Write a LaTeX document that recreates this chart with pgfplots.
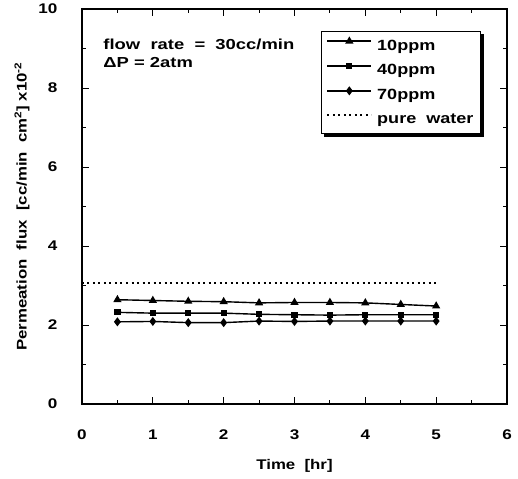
\documentclass[border=0pt]{standalone}
\usepackage{fontspec}
\setmainfont{Liberation Sans}[FakeStretch=1.2, BoldFeatures={FakeStretch=1.2}]
\newfontfamily\wf{Liberation Sans}[FakeStretch=1.22, BoldFeatures={FakeStretch=1.22}]
\newfontfamily\af{Liberation Sans}[FakeStretch=1.27, BoldFeatures={FakeStretch=1.27}]
\usepackage{pgfplots}
\pgfplotsset{compat=1.18}
\begin{document}
\begin{tikzpicture}
\begin{axis}[
  scale only axis,
  width=425pt, height=395pt,
  xmin=0, xmax=6, ymin=0, ymax=10,
  xtick={0,1,...,6}, ytick={0,2,...,10},
  minor xtick={0.5,1.5,...,5.5}, minor ytick={1,3,...,9},
  tick align=inside, ticks=both,
  major tick length=7pt, minor tick length=4pt,
  every tick/.style={black, line width=0.9pt},
  axis line style={line width=1.3pt},
  tick label style={font=\fontsize{14}{16}\selectfont\wf\bfseries},
  /pgf/number format/assume math mode=true,
  xticklabel style={yshift=-22pt},
  yticklabel style={xshift=-21pt},
  label style={font=\fontsize{14}{16}\selectfont\bfseries},
  xlabel={Time\ \ [hr]},
  xlabel style={at={(rel axis cs:0.5,-0.157)}, anchor=center},
  ylabel={Permeation\ \ flux\ \ [cc/min\ \ cm\textsuperscript{2}]\ x10\textsuperscript{-2}},
  ylabel style={at={(rel axis cs:-0.141,0.5)}, anchor=center, rotate=0},
  legend style={name=leg, at={(rel axis cs:0.562,0.944)}, anchor=north west,
    font=\fontsize{14.8}{16}\selectfont\wf\bfseries, draw=black, line width=1.3pt,
    row sep=9pt, column sep=3pt, inner xsep=5pt, inner ysep=6pt},
  legend cell align=left,
  legend image code/.code={
    \draw[mark repeat=2,mark phase=2,yshift=4.5pt,#1] plot coordinates {(0pt,0pt) (22pt,0pt) (44pt,0pt)};
  },
  clip=false,
]
\addplot[black, line width=1.4pt, mark=triangle*, mark size=3.4pt] coordinates {
(0.5,2.64) (1,2.62) (1.5,2.60) (2,2.59) (2.5,2.56) (3,2.57) (3.5,2.57) (4,2.56) (4.5,2.52) (5,2.48)};
\addlegendentry{10ppm}
\addplot[black, line width=1.4pt, mark=square*, mark size=2.4pt] coordinates {
(0.5,2.32) (1,2.30) (1.5,2.30) (2,2.30) (2.5,2.27) (3,2.26) (3.5,2.25) (4,2.26) (4.5,2.26) (5,2.26)};
\addlegendentry{40ppm}
\addplot[black, line width=1.4pt, mark=diamond*, mark size=3.4pt] coordinates {
(0.5,2.08) (1,2.09) (1.5,2.06) (2,2.06) (2.5,2.10) (3,2.09) (3.5,2.10) (4,2.10) (4.5,2.10) (5,2.10)};
\addlegendentry{70ppm}
\addplot[black, line width=1.7pt, dash pattern=on 2pt off 3.5pt] coordinates {(0,3.07) (5,3.07)};
\addlegendentry{pure\ \ water}
\node[anchor=north west, align=left, font=\fontsize{14.5}{18.5}\selectfont\af\bfseries, inner sep=0pt]
  at (rel axis cs:0.05,0.925) {flow\ \ rate\ \ =\ \ 30cc/min\\ΔP\ =\ 2atm};
\end{axis}
\draw[black, line width=2.6pt]
  ([xshift=1.3pt,yshift=-3pt]leg.north east) -- ([xshift=1.3pt,yshift=-1.3pt]leg.south east)
  -- ([xshift=3pt,yshift=-1.3pt]leg.south west);
\path (current axis.south west) ++(-82pt,-74pt) coordinate (bl);
\path (current axis.north east) ++(11pt,9pt) coordinate (tr);
\path (bl) rectangle (tr);
\end{tikzpicture}
\end{document}
